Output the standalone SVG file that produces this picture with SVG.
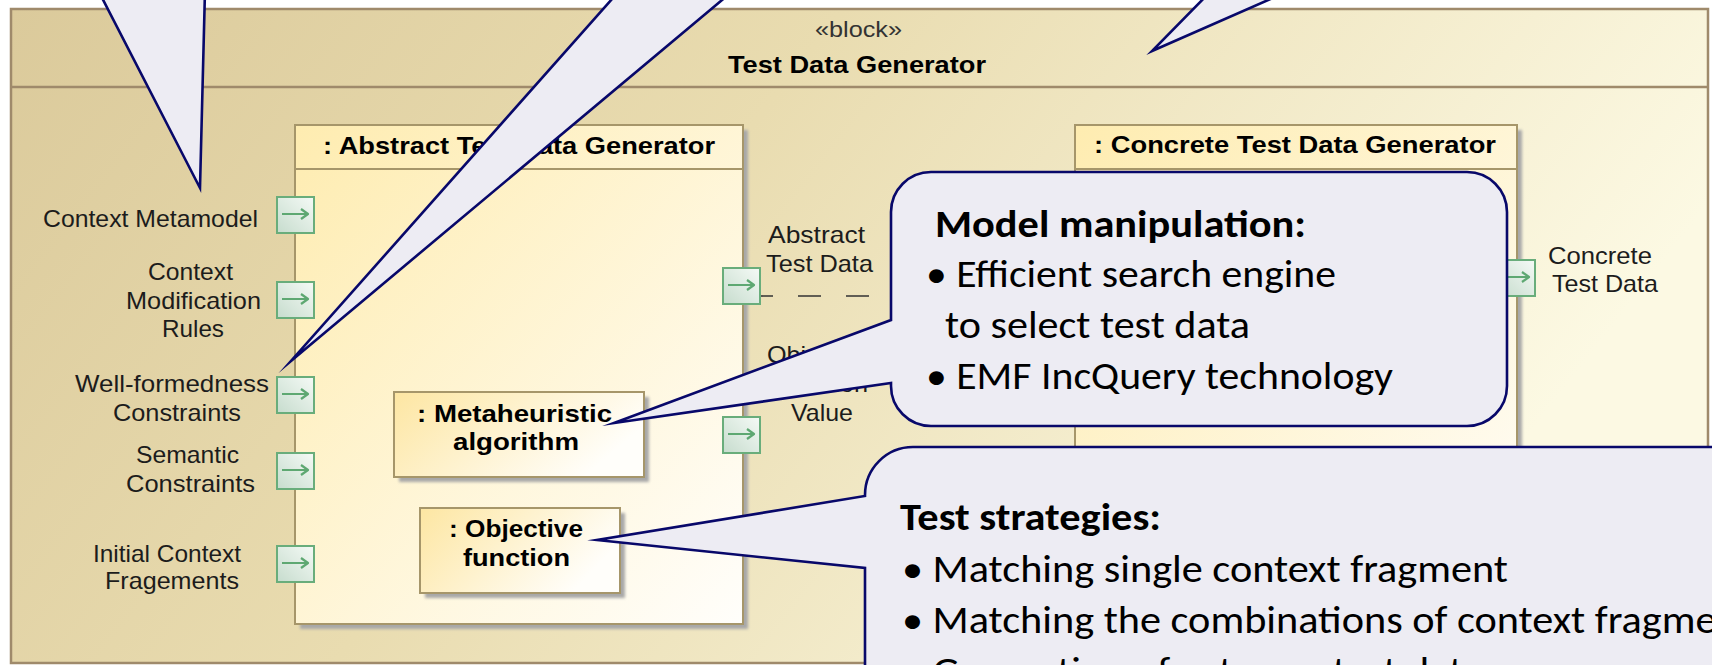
<svg xmlns="http://www.w3.org/2000/svg" xmlns:xlink="http://www.w3.org/1999/xlink" width="1712" height="665" viewBox="0 0 1712 665">
<defs>
  <linearGradient id="gOuter" x1="0" y1="0" x2="1" y2="0.3">
    <stop offset="0" stop-color="#dbca9b"/>
    <stop offset="0.45" stop-color="#e9dcb0"/>
    <stop offset="1" stop-color="#fcf9e3"/>
  </linearGradient>
  <linearGradient id="gBox" x1="0" y1="0" x2="1" y2="1">
    <stop offset="0" stop-color="#feecb0"/>
    <stop offset="1" stop-color="#fffefb"/>
  </linearGradient>
  <linearGradient id="gSmall" x1="0" y1="0" x2="1" y2="0.4">
    <stop offset="0" stop-color="#fde6a2"/>
    <stop offset="1" stop-color="#fffefa"/>
  </linearGradient>
  <linearGradient id="gPort" x1="0" y1="1" x2="1" y2="0">
    <stop offset="0" stop-color="#c6dccd"/>
    <stop offset="1" stop-color="#f5faf6"/>
  </linearGradient>
  <filter id="blur" x="-10%" y="-10%" width="120%" height="120%">
    <feGaussianBlur stdDeviation="1.5"/>
  </filter>
  <g id="port">
    <rect x="0" y="0" width="37" height="36" fill="url(#gPort)" stroke="#69ad7b" stroke-width="2"/>
    <path d="M5 17 H31 M24 12 L31 17 L24 22" fill="none" stroke="#5ea872" stroke-width="2.2" stroke-linejoin="round"/>
  </g>
</defs>
<style>
  .lbl { font-family: "Liberation Sans", Arial, sans-serif; font-size: 24px; fill: #1c1c1c; }
  .ttl { font-family: "Liberation Sans", Arial, sans-serif; font-size: 24px; font-weight: bold; fill: #000; }
  .ster { font-family: "Liberation Sans", Arial, sans-serif; font-size: 22px; fill: #333; }
  .cl { font-family: Carlito, Lato, "Open Sans", sans-serif; font-size: 38px; fill: #000; }
  .clb { font-family: Carlito, Lato, "Open Sans", sans-serif; font-size: 38px; font-weight: bold; fill: #000; }
  .box { stroke: #a6966a; stroke-width: 2; }
  .shadow { fill: #a8a8a8; filter: url(#blur); }
  .callout { fill: #edecf3; stroke: #08086a; stroke-width: 2.6; stroke-linejoin: miter; stroke-miterlimit: 30; }
  .conn { fill: none; stroke: #333; stroke-width: 1.6; stroke-dasharray: 23 25; }
</style>

<!-- Outer block -->
<g id="block-test-data-generator">
  <rect x="11" y="9" width="1697" height="654" fill="url(#gOuter)" stroke="#9f8a6b" stroke-width="2.5"/>
  <line x1="11" y1="87" x2="1708" y2="87" stroke="#9f8a6b" stroke-width="2.5"/>
  <text class="ster" x="815" y="37" textLength="87" lengthAdjust="spacingAndGlyphs">«block»</text>
  <text class="ttl" x="728" y="73" textLength="258" lengthAdjust="spacingAndGlyphs">Test Data Generator</text>
</g>

<!-- Abstract Test Data Generator -->
<g id="abstract-test-data-generator">
  <rect class="shadow" x="300" y="130" width="448" height="499"/>
  <rect class="box" x="295" y="125" width="448" height="499" fill="url(#gBox)"/>
  <line x1="295" y1="169" x2="743" y2="169" stroke="#a6966a" stroke-width="2"/>
  <text class="ttl" x="323" y="154" textLength="392" lengthAdjust="spacingAndGlyphs">: Abstract Test Data Generator</text>
</g>

<g id="metaheuristic-algorithm">
  <rect class="shadow" x="399" y="397" width="250" height="85"/>
  <rect class="box" x="394" y="392" width="250" height="85" fill="url(#gSmall)"/>
  <text class="ttl" x="417" y="422" textLength="195" lengthAdjust="spacingAndGlyphs">: Metaheuristic</text>
  <text class="ttl" x="453" y="450" textLength="126" lengthAdjust="spacingAndGlyphs">algorithm</text>
</g>

<g id="objective-function">
  <rect class="shadow" x="425" y="513" width="200" height="85"/>
  <rect class="box" x="420" y="508" width="200" height="85" fill="url(#gSmall)"/>
  <text class="ttl" x="449" y="537" textLength="134" lengthAdjust="spacingAndGlyphs">: Objective</text>
  <text class="ttl" x="463" y="566" textLength="107" lengthAdjust="spacingAndGlyphs">function</text>
</g>

<!-- Concrete Test Data Generator -->
<g id="concrete-test-data-generator">
  <rect class="shadow" x="1080" y="130" width="442" height="495"/>
  <rect class="box" x="1075" y="125" width="442" height="495" fill="url(#gBox)"/>
  <line x1="1075" y1="169" x2="1517" y2="169" stroke="#a6966a" stroke-width="2"/>
  <text class="ttl" x="1094" y="153" textLength="402" lengthAdjust="spacingAndGlyphs">: Concrete Test Data Generator</text>
</g>

<!-- Connectors -->
<g id="connectors">
  <line class="conn" x1="750" y1="296" x2="1075" y2="296"/>
</g>

<!-- Ports with labels -->
<g id="port-context-metamodel">
  <use href="#port" x="277" y="197"/>
  <text class="lbl" x="43" y="227" textLength="215" lengthAdjust="spacingAndGlyphs">Context Metamodel</text>
</g>
<g id="port-context-modification-rules">
  <use href="#port" x="277" y="282"/>
  <text class="lbl" x="148" y="280" textLength="85" lengthAdjust="spacingAndGlyphs">Context</text>
  <text class="lbl" x="126" y="309" textLength="135" lengthAdjust="spacingAndGlyphs">Modification</text>
  <text class="lbl" x="162" y="337" textLength="62" lengthAdjust="spacingAndGlyphs">Rules</text>
</g>
<g id="port-well-formedness-constraints">
  <use href="#port" x="277" y="377"/>
  <text class="lbl" x="75" y="392" textLength="194" lengthAdjust="spacingAndGlyphs">Well-formedness</text>
  <text class="lbl" x="113" y="421" textLength="128" lengthAdjust="spacingAndGlyphs">Constraints</text>
</g>
<g id="port-semantic-constraints">
  <use href="#port" x="277" y="453"/>
  <text class="lbl" x="136" y="463" textLength="103" lengthAdjust="spacingAndGlyphs">Semantic</text>
  <text class="lbl" x="126" y="492" textLength="129" lengthAdjust="spacingAndGlyphs">Constraints</text>
</g>
<g id="port-initial-context-fragements">
  <use href="#port" x="277" y="546"/>
  <text class="lbl" x="93" y="562" textLength="148" lengthAdjust="spacingAndGlyphs">Initial Context</text>
  <text class="lbl" x="105" y="589" textLength="134" lengthAdjust="spacingAndGlyphs">Fragements</text>
</g>
<g id="port-abstract-test-data">
  <use href="#port" x="723" y="268"/>
  <text class="lbl" x="768" y="243" textLength="97" lengthAdjust="spacingAndGlyphs">Abstract</text>
  <text class="lbl" x="766" y="272" textLength="107" lengthAdjust="spacingAndGlyphs">Test Data</text>
</g>
<g id="port-objective-function-value">
  <use href="#port" x="723" y="417"/>
  <text class="lbl" x="767" y="363" textLength="105" lengthAdjust="spacingAndGlyphs">Objective</text>
  <text class="lbl" x="771" y="392" textLength="97" lengthAdjust="spacingAndGlyphs">Function</text>
  <text class="lbl" x="791" y="421" textLength="62" lengthAdjust="spacingAndGlyphs">Value</text>
</g>
<g id="port-concrete-test-data">
  <use href="#port" x="1498" y="260"/>
  <text class="lbl" x="1548" y="264" textLength="104" lengthAdjust="spacingAndGlyphs">Concrete</text>
  <text class="lbl" x="1552" y="292" textLength="106" lengthAdjust="spacingAndGlyphs">Test Data</text>
</g>

<!-- Callout tails from callouts outside the view -->
<g id="callout-tail-1">
  <polygon class="callout" points="98,-10 200,188 205,-10"/>
</g>
<g id="callout-tail-2">
  <polygon class="callout" points="620,-10 291,361 734,-10"/>
</g>
<g id="callout-tail-3">
  <polygon class="callout" points="1212,-10 1152,51 1291,-10"/>
</g>

<!-- Model manipulation callout -->
<g id="callout-model-manipulation">
  <path class="callout" d="M931 172 H1467 A40 40 0 0 1 1507 212 V386 A40 40 0 0 1 1467 426 H931 A40 40 0 0 1 891 386 V383 L614 423 L891 320 V212 A40 40 0 0 1 931 172 Z"/>
  <text class="clb" x="935" y="237" textLength="371" lengthAdjust="spacingAndGlyphs">Model manipulation:</text>
  <text class="cl" x="926" y="287" textLength="410" lengthAdjust="spacingAndGlyphs">• Efficient search engine</text>
  <text class="cl" x="945" y="338" textLength="305" lengthAdjust="spacingAndGlyphs">to select test data</text>
  <text class="cl" x="926" y="389" textLength="467" lengthAdjust="spacingAndGlyphs">• EMF IncQuery technology</text>
</g>

<!-- Test strategies callout -->
<g id="callout-test-strategies">
  <path class="callout" d="M913 447 H1760 V720 H865 V568 L597 540 L865 496 V495 A48 48 0 0 1 913 447 Z"/>
  <text class="clb" x="900" y="530" textLength="261" lengthAdjust="spacingAndGlyphs">Test strategies:</text>
  <text class="cl" x="902" y="582" textLength="606" lengthAdjust="spacingAndGlyphs">• Matching single context fragment</text>
  <text class="cl" x="902" y="633" textLength="867" lengthAdjust="spacingAndGlyphs">• Matching the combinations of context fragments</text>
  <text class="cl" x="902" y="684" textLength="581" lengthAdjust="spacingAndGlyphs">• Generation of extreme test data</text>
</g>
</svg>
